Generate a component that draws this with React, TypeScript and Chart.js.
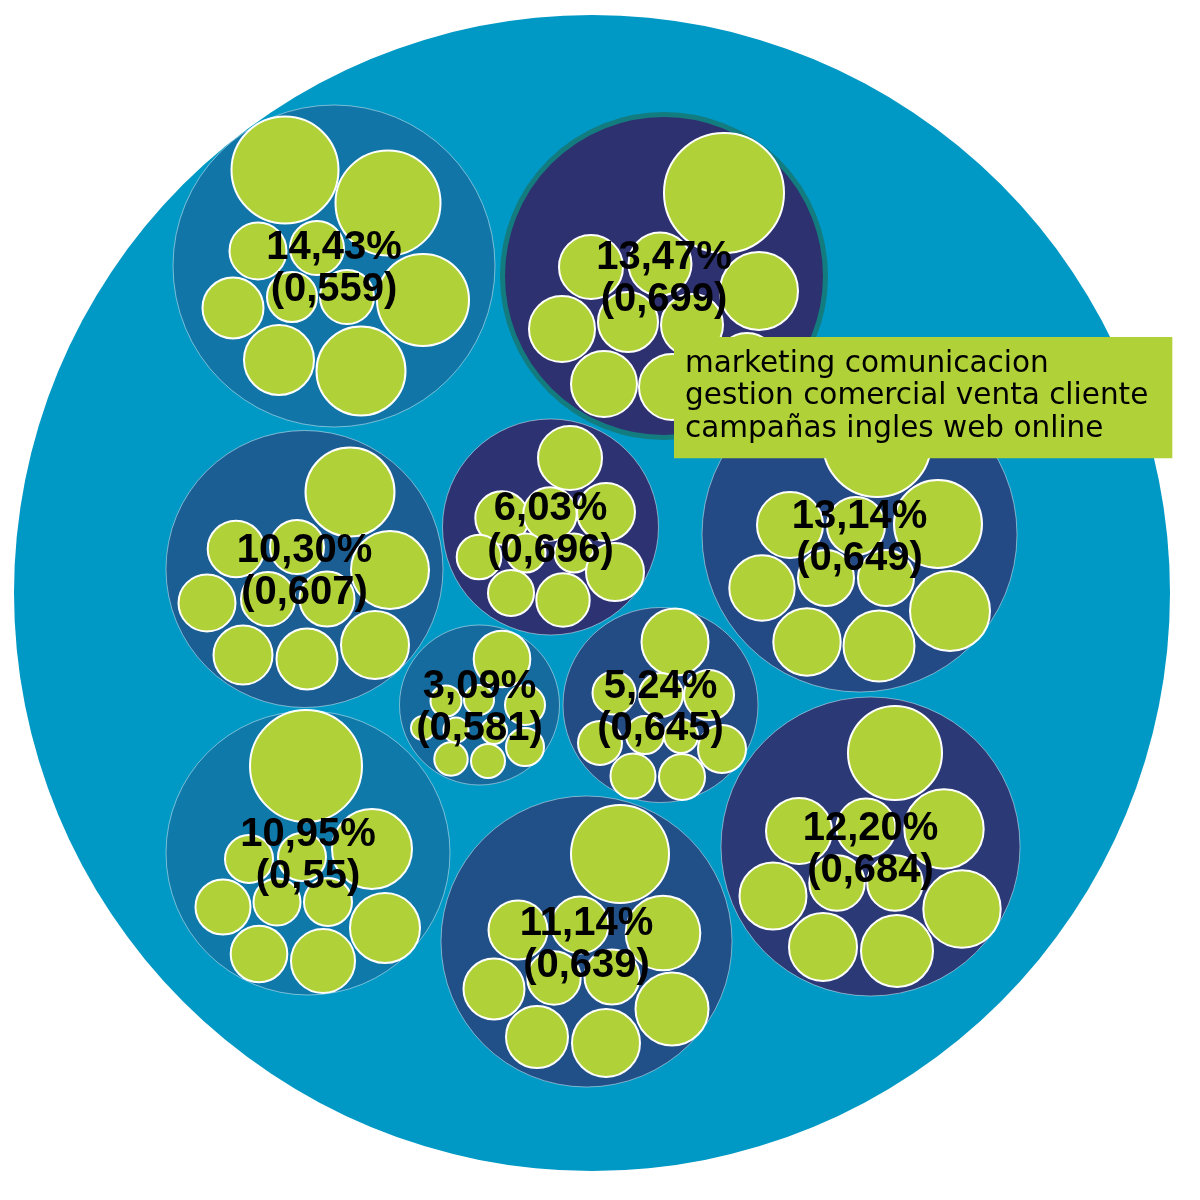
import React, { useEffect, useRef } from "react";
import { Chart, registerables, Tooltip } from "chart.js";

Chart.register(...registerables);

// ---- data ----
const rootX = [592];
const rootY = [593];
const rootR = [578];

const clusterShare = [14.43, 13.47, 10.3, 6.03, 13.14, 3.09, 5.24, 10.95, 11.14, 12.2];
const clusterScore = [0.559, 0.699, 0.607, 0.696, 0.649, 0.581, 0.645, 0.55, 0.639, 0.684];
const clusterX = [334, 664, 304.5, 550.5, 859.5, 479.5, 660.5, 308, 586.5, 870.5];
const clusterY = [266, 276, 569, 527, 534.5, 705, 705, 853, 941.5, 846.5];
const clusterR = [161, 161.5, 138.5, 108, 157.5, 80, 97.5, 142, 145.5, 149.5];

const leafX = [
  [285, 388, 423, 361, 279, 233, 258, 317, 292, 347],
  [724, 759, 591, 660, 562, 628, 692, 604, 672, 747],
  [350, 390, 236, 297, 207, 268, 327, 375, 243, 307],
  [570, 606, 502, 550, 479, 526, 574, 615, 511, 563],
  [877, 938, 790, 856, 762, 826, 886, 950, 807, 879],
  [502, 525, 525, 446, 479, 423, 451, 488, 456, 494],
  [675, 709, 614, 661, 600, 645, 681, 722, 633, 682],
  [306, 372, 249, 302, 223, 277, 328, 385, 259, 323],
  [620, 663, 518, 580, 494, 554, 612, 672, 537, 606],
  [895, 944, 799, 866, 773, 837, 895, 962, 823, 897],
];
const leafY = [
  [170, 203, 300, 371, 360, 308, 251, 248, 297, 297],
  [193, 291, 267, 264, 329, 322, 325, 384, 387, 363],
  [492, 570, 549, 547, 603, 599, 599, 645, 655, 659],
  [458, 512, 518, 514, 557, 553, 553, 572, 593, 600],
  [443, 524, 525, 526, 588, 578, 578, 611, 642, 646],
  [659, 705, 747, 701, 700, 728, 759, 761, 730, 731],
  [642, 695, 693, 695, 743, 735, 736, 749, 776, 777],
  [766, 849, 859, 857, 907, 902, 902, 928, 954, 961],
  [854, 933, 930, 925, 989, 978, 977, 1009, 1037, 1043],
  [753, 829, 831, 828, 896, 883, 883, 909, 947, 951],
];
const leafR = [
  [53.5, 52.5, 46, 44.5, 35, 30.5, 28.5, 27, 25, 27],
  [60, 39, 32, 31.5, 33, 30, 31, 33, 33, 30],
  [44.5, 39, 28.3, 27, 28.5, 27, 27.5, 34, 29.5, 30.5],
  [32, 29, 26.7, 26.7, 22.3, 19.5, 19.5, 29, 23, 26.7],
  [54, 44, 33, 29, 32.7, 28, 28, 40, 33.7, 35.5],
  [28.3, 20, 19, 15.5, 15, 12, 16.7, 17, 12.5, 13],
  [33.5, 25, 21.5, 22, 22, 19, 17, 24, 22.5, 23],
  [56, 40, 24, 24, 27.5, 23.5, 24, 35, 28.3, 32],
  [49, 37.3, 29.5, 28.5, 30.5, 26.7, 27.5, 36.5, 31, 34],
  [47, 39.7, 33, 29.5, 33.5, 27.7, 27.8, 38.7, 34, 36],
];

const hoveredCluster = 1;
const hoveredTerms = [
  "marketing comunicacion",
  "gestion comercial venta cliente",
  "campañas ingles web online",
];
const pointerPosition = { x: 674, y: 337 };

// ---- styles ----
const ROOT_COLOR = "#0098c4";
const LEAF_COLOR = "#b1d139";
const LOW = [15, 122, 170];
const HIGH = [46, 49, 112];
function scoreColor(v: number) {
  const t = Math.max(0, Math.min(1, (v - 0.55) / 0.15));
  const c = LOW.map((a, i) => Math.round(a + (HIGH[i] - a) * t));
  return `rgb(${c[0]},${c[1]},${c[2]})`;
}
const fmt = (v: number, d?: number) =>
  (d === undefined ? String(v) : v.toFixed(d)).replace(".", ",");

(Tooltip as any).positioners.pointer = function (_items: any, eventPosition: any) {
  if (!eventPosition) return false;
  return { x: eventPosition.x, y: eventPosition.y };
};

const labelPlugin = {
  id: "clusterLabels",
  afterDatasetsDraw(chart: any) {
    const meta = chart.getDatasetMeta(1);
    const ctx = chart.ctx;
    ctx.save();
    ctx.fillStyle = "#000";
    ctx.textAlign = "center";
    ctx.textBaseline = "alphabetic";
    ctx.font = "bold 40px 'Liberation Sans', Arial, sans-serif";
    meta.data.forEach((el: any, i: number) => {
      ctx.fillText(fmt(clusterShare[i], 2) + "%", el.x, el.y - 7);
      ctx.fillText("(" + fmt(clusterScore[i]) + ")", el.x, el.y + 35);
    });
    ctx.restore();
  },
};

export default function App() {
  const ref = useRef<HTMLCanvasElement | null>(null);
  useEffect(() => {
    document.body.style.margin = "0";
    const canvas = ref.current!;
    const rootData = rootX.map((x, i) => ({ x, y: rootY[i], r: rootR[i] }));
    const clusterData = clusterX.map((x, i) => ({ x, y: clusterY[i], r: clusterR[i] }));
    const leafData: any[] = [];
    leafX.forEach((row, c) =>
      row.forEach((x, j) => leafData.push({ x, y: leafY[c][j], r: leafR[c][j] }))
    );
    const chart = new Chart(canvas, {
      type: "bubble",
      data: {
        datasets: [
          {
            data: rootData,
            order: 3,
            clip: false,
            backgroundColor: ROOT_COLOR,
            hoverBackgroundColor: ROOT_COLOR,
            borderWidth: 0,
            hoverBorderWidth: 0,
            hoverRadius: 0,
          },
          {
            data: clusterData,
            order: 2,
            clip: false,
            backgroundColor: (c: any) => scoreColor(clusterScore[c.dataIndex]),
            hoverBackgroundColor: (c: any) => scoreColor(clusterScore[c.dataIndex]),
            borderColor: "rgba(255,255,255,0.45)",
            borderWidth: 1,
            hoverBorderColor: "#137c7f",
            hoverBorderWidth: 5,
            hoverRadius: 0,
          },
          {
            data: leafData,
            order: 1,
            clip: false,
            backgroundColor: LEAF_COLOR,
            hoverBackgroundColor: LEAF_COLOR,
            borderColor: "#ffffff",
            borderWidth: 2,
            hoverBorderWidth: 2,
            hoverRadius: 0,
          },
        ] as any,
      },
      options: {
        responsive: false,
        animation: false,
        events: [],
        layout: { padding: 0, autoPadding: false },
        scales: {
          x: { type: "linear", min: 0, max: 1200, display: false },
          y: { type: "linear", min: 0, max: 1200, reverse: true, display: false },
        },
        plugins: {
          legend: { display: false },
          tooltip: {
            enabled: true,
            position: "pointer" as any,
            xAlign: "left",
            yAlign: "top",
            caretSize: 0,
            caretPadding: 0,
            cornerRadius: 0,
            displayColors: false,
            backgroundColor: LEAF_COLOR,
            bodyColor: "#000",
            bodyFont: { family: "'DejaVu Sans', sans-serif", size: 29.5, lineHeight: 1.1 },
            bodySpacing: 0,
            padding: { left: 11, right: 24, top: 11, bottom: 13 },
            callbacks: {
              title: () => "",
              label: (item: any) =>
                item.datasetIndex === 1 && item.dataIndex === hoveredCluster ? hoveredTerms : "",
            },
          },
        },
      } as any,
      plugins: [labelPlugin],
    });
    const active = [{ datasetIndex: 1, index: hoveredCluster }];
    chart.setActiveElements(active);
    chart.tooltip!.setActiveElements(active, pointerPosition);
    chart.update();
    return () => chart.destroy();
  }, []);
  return (
    <div style={{ width: 1200, height: 1200 }}>
      <canvas ref={ref} width={1200} height={1200} />
    </div>
  );
}
